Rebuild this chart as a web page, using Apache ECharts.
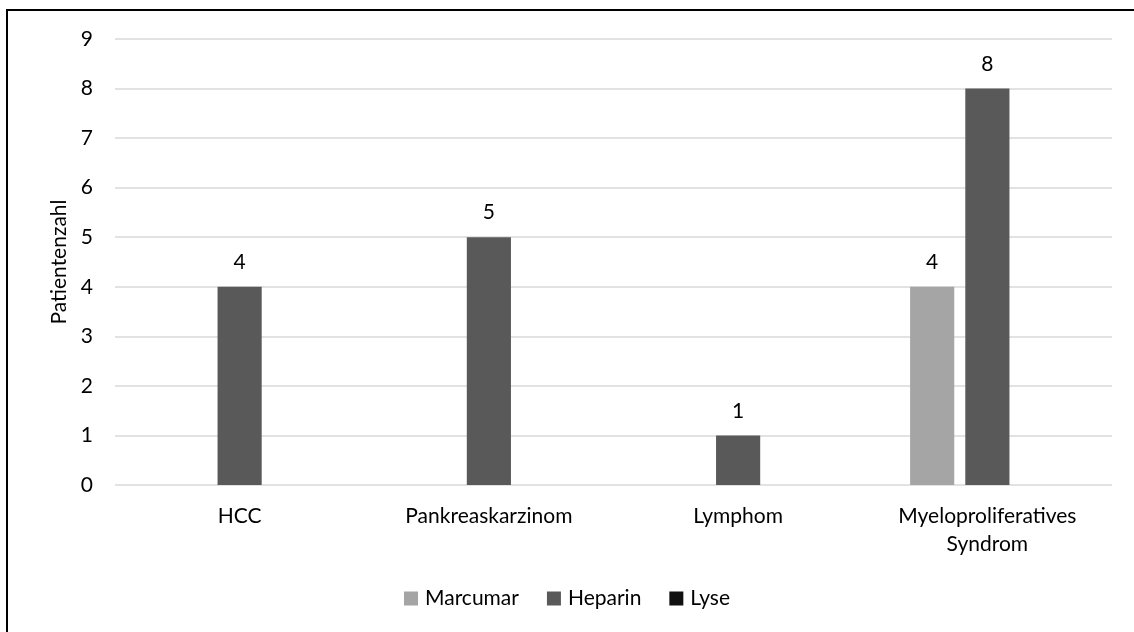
<!DOCTYPE html>
<html>
<head>
<meta charset="utf-8">
<script src="https://cdn.jsdelivr.net/npm/echarts@6/dist/echarts.min.js"></script>
<style>
  html, body { margin: 0; padding: 0; background: #fff; }
  #chart { width: 1134px; height: 632px; }
</style>
</head>
<body>
<div id="chart"></div>
<script>
// Patient counts per tumour entity and therapy
const categories = ['HCC', 'Pankreaskarzinom', 'Lymphom', 'Myeloproliferatives\nSyndrom'];
const marcumar = [0, 0, 0, 4];
const heparin = [4, 5, 1, 8];
const lyse = [0, 0, 0, 0];
const yTicks = [0, 1, 2, 3, 4, 5, 6, 7, 8, 9];

const FONT = 'Lato, "Open Sans", sans-serif';
const FS = 21;

const chart = echarts.init(document.getElementById('chart'), null, { renderer: 'canvas' });

function barSeries(name, values, color) {
  return {
    name: name,
    type: 'bar',
    data: values,
    barGap: '25%',
    barCategoryGap: '38%',
    itemStyle: { color: color },
    label: {
      show: true,
      position: 'top',
      distance: 14,
      color: '#000',
      fontFamily: FONT,
      fontSize: FS,
      formatter: p => (p.value ? String(p.value) : '')
    }
  };
}

chart.setOption({
  animation: false,
  backgroundColor: '#fff',
  textStyle: { fontFamily: FONT },
  graphic: [{
    type: 'rect',
    shape: { x: 7, y: 10, width: 1140, height: 640 },
    style: { fill: 'none', stroke: '#000', lineWidth: 2 },
    silent: true,
    z: 100
  }],
  grid: { left: 115, right: 22, top: 39, bottom: 147 },
  legend: {
    top: 583,
    left: 'center',
    itemWidth: 14,
    itemHeight: 14,
    itemGap: 28,
    icon: 'rect',
    textStyle: { color: '#000', fontFamily: FONT, fontSize: FS, padding: [0, 0, 0, 2] },
    data: ['Marcumar', 'Heparin', 'Lyse']
  },
  xAxis: {
    type: 'category',
    data: categories,
    axisLine: { show: false },
    axisTick: { show: false },
    axisLabel: {
      color: '#000',
      fontFamily: FONT,
      fontSize: FS,
      margin: 17,
      lineHeight: 28,
      interval: 0
    }
  },
  yAxis: {
    type: 'value',
    min: yTicks[0],
    max: yTicks[yTicks.length - 1],
    interval: 1,
    name: 'Patientenzahl',
    nameLocation: 'middle',
    nameRotate: 90,
    nameGap: 44,
    nameTextStyle: { color: '#000', fontFamily: FONT, fontSize: FS },
    axisLine: { show: false },
    axisTick: { show: false },
    axisLabel: { color: '#000', fontFamily: FONT, fontSize: FS, margin: 22 },
    splitLine: { lineStyle: { color: '#d9d9d9', width: 1.5 } }
  },
  series: [
    barSeries('Marcumar', marcumar, '#a5a5a5'),
    barSeries('Heparin', heparin, '#595959'),
    barSeries('Lyse', lyse, '#111111')
  ]
});
</script>
</body>
</html>
